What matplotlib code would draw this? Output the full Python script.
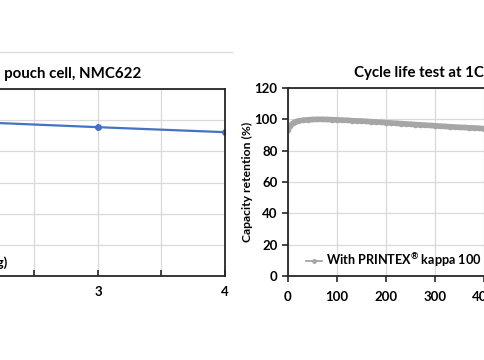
import numpy as np
import matplotlib
matplotlib.use("Agg")
import matplotlib.pyplot as plt
from matplotlib.lines import Line2D
from matplotlib.ticker import MultipleLocator, FuncFormatter

plt.rcParams['font.family'] = ['Lato', 'DejaVu Sans']
plt.rcParams['font.weight'] = 'bold'
plt.rcParams['mathtext.fontset'] = 'custom'
plt.rcParams['mathtext.rm'] = 'Lato:bold'
plt.rcParams['mathtext.default'] = 'rm'

# left chart (pouch cell), mostly cropped away
pouch_x = [1, 2, 3, 4]
pouch_y = [101.0, 98.9, 95.5, 92.3]
pouch_label = "Specific capacity (mAh/g)"

# right chart: cycle life test
cycles = [0, 5, 10, 15, 20, 30, 40, 50, 60, 70, 80, 90, 100, 110, 120, 130,
          140, 150, 160, 170, 180, 190, 200, 210, 220, 230, 240, 250, 260,
          270, 280, 290, 300, 310, 320, 330, 340, 350, 360, 370, 380, 390,
          400, 410, 420]
retention = [93.5, 96.0, 97.6, 98.4, 98.9, 99.4, 99.7, 99.9, 100.0, 100.0,
             99.9, 99.8, 99.7, 99.5, 99.4, 99.2, 99.0, 98.9, 98.7, 98.5,
             98.3, 98.1, 97.9, 97.7, 97.5, 97.3, 97.1, 96.9, 96.7, 96.5,
             96.3, 96.1, 95.9, 95.7, 95.5, 95.3, 95.1, 94.9, 94.8, 94.6,
             94.5, 94.3, 94.1, 94.0, 93.8]
cycle_label = "With PRINTEX$^{\u00ae}$ kappa 100"

W, H = 485, 360
fig = plt.figure(figsize=(W / 100, H / 100), dpi=100)

def box(l, t, r, b):
    # pixel box (from top-left) -> figure fraction
    return [l / W, 1 - b / H, (r - l) / W, (b - t) / H]

grid_c = '#d9d9d9'
spine_c = '#262626'

# ---- left axes
ax1 = fig.add_axes(box(-156, 89, 225, 276))
ax1.plot(pouch_x, pouch_y, color='#4472c4', lw=1.6, marker='o', ms=4,
         label=pouch_label)
ax1.set_xlim(1, 4)
ax1.set_ylim(0, 120)
ax1.xaxis.set_major_locator(MultipleLocator(0.5))
ax1.yaxis.set_major_locator(MultipleLocator(20))
ax1.xaxis.set_major_formatter(FuncFormatter(lambda v, p: f"{v:.0f}" if v == int(v) else ""))
ax1.grid(True, color=grid_c, lw=0.9)
ax1.set_axisbelow(True)
ax1.tick_params(axis='x', direction='in', length=4, width=1.2, labelsize=9.5, pad=7, color=spine_c)
ax1.tick_params(axis='y', length=0, labelleft=False)
for s in ax1.spines.values():
    s.set_color(spine_c)
    s.set_linewidth(1.3)
ax1.legend(loc='center right', bbox_to_anchor=(7 / W, 1 - 263 / H),
           bbox_transform=fig.transFigure, frameon=False, fontsize=9.5,
           borderpad=0, borderaxespad=0, handlelength=1.2, handletextpad=0.3)

fig.text(141 / W, 1 - 74 / H, "Rate test with pouch cell, NMC622",
         ha='right', va='center', fontsize=10.8, fontweight='bold')

# ---- right axes
ax2 = fig.add_axes(box(288, 88, 533, 276))
ax2.plot(cycles, retention, color='#a6a6a6', lw=4, marker='o', ms=4,
         markeredgewidth=0, label=cycle_label)
ax2.set_xlim(0, 500)
ax2.set_ylim(0, 120)
ax2.xaxis.set_major_locator(MultipleLocator(100))
ax2.yaxis.set_major_locator(MultipleLocator(20))
ax2.grid(True, color=grid_c, lw=0.9)
ax2.set_axisbelow(True)
ax2.tick_params(axis='both', direction='out', length=4, width=1.2,
                labelsize=9.5, color=spine_c)
ax2.tick_params(axis='x', pad=7)
for s in ax2.spines.values():
    s.set_color(spine_c)
    s.set_linewidth(1.3)
ax2.set_ylabel("Capacity retention (%)", fontsize=8.7, fontweight='bold', labelpad=1)
leg = ax2.legend(loc='center left', bbox_to_anchor=(306 / W, 1 - 260 / H),
                 bbox_transform=fig.transFigure, frameon=False, fontsize=9.1,
                 borderpad=0, borderaxespad=0, handlelength=1.3,
                 handletextpad=0.25)
for h in leg.legend_handles:
    h.set_markersize(3.5)
    h.set_linewidth(1.3)

fig.text(354 / W, 1 - 73 / H, "Cycle life test at 1C / 1C",
         ha='left', va='center', fontsize=10.8, fontweight='bold')

# chart-area border of the left chart
fig.add_artist(Line2D([0, 232 / W], [1 - 52 / H] * 2, color=grid_c, lw=0.8))

fig.savefig("out.png", dpi=100)
